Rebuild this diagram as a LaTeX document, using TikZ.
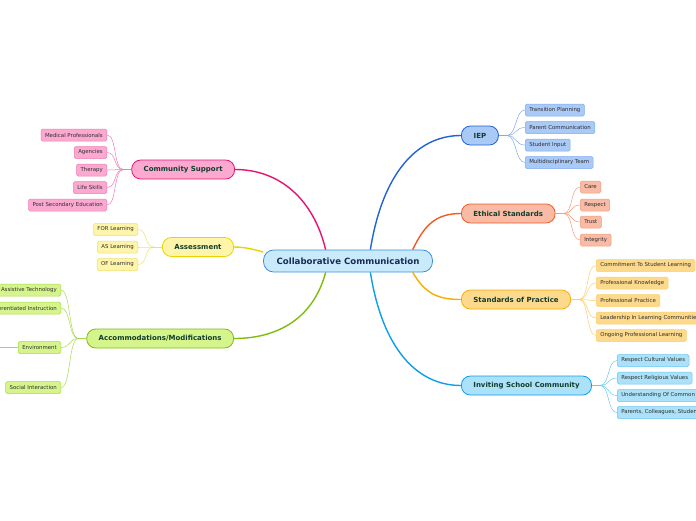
\documentclass[tikz,border=0pt]{standalone}
\usepackage{fontspec}
\setmainfont{DejaVu Sans}
\usetikzlibrary{positioning}

\definecolor{ccfill}{HTML}{C8EAFB}
\definecolor{ccedge}{HTML}{3A8ED6}
\definecolor{cctext}{HTML}{1B2A55}
\definecolor{topictext}{HTML}{123D2C}
\definecolor{leaftext}{HTML}{2E2E2E}
% branch colours: line, fill, soft
\definecolor{iepline}{HTML}{1F63D6}
\definecolor{iepfill}{HTML}{A9C9F6}
\definecolor{iepsoft}{HTML}{7FABEF}
\definecolor{esline}{HTML}{F15A24}
\definecolor{esfill}{HTML}{F9BBA5}
\definecolor{essoft}{HTML}{F59A7D}
\definecolor{spline}{HTML}{F8AC00}
\definecolor{spfill}{HTML}{FDD98C}
\definecolor{spsoft}{HTML}{F9CF70}
\definecolor{icline}{HTML}{0D9EE8}
\definecolor{icfill}{HTML}{ABE1F9}
\definecolor{icsoft}{HTML}{6CC6F0}
\definecolor{csline}{HTML}{E6136F}
\definecolor{csfill}{HTML}{FCA9D1}
\definecolor{cssoft}{HTML}{F17BB2}
\definecolor{asline}{HTML}{E9D400}
\definecolor{asfill}{HTML}{FEF4AA}
\definecolor{assoft}{HTML}{F0E070}
\definecolor{amline}{HTML}{7CBD10}
\definecolor{amfill}{HTML}{D5F58C}
\definecolor{amsoft}{HTML}{A8D850}

\begin{document}
\begin{tikzpicture}[x=1pt, y=-1pt,
  center/.style={rounded corners=10pt, draw=ccedge, fill=ccfill, line width=0.8pt,
    minimum height=22pt, inner xsep=13pt, inner ysep=0pt, text=cctext,
    font=\fontsize{8.6}{9}\selectfont\bfseries},
  topic/.style={rounded corners=9pt, draw=#1line, fill=#1fill, line width=0.8pt,
    minimum height=19pt, minimum width=37pt, inner xsep=12pt, inner ysep=0pt,
    text=topictext, font=\fontsize{7}{8}\selectfont\bfseries},
  leaf/.style={rounded corners=1.5pt, draw=#1soft, fill=#1fill, line width=0.5pt,
    minimum height=12pt, inner xsep=4pt, inner ysep=0pt,
    text=leaftext, font=\fontsize{5.4}{6}\selectfont},
  branch/.style={draw=#1line, line width=1.4pt},
  twig/.style={draw=#1soft, line width=0.5pt},
]
\useasboundingbox (0,0) rectangle (696,520);

% centre
\node[center] (cc) at (348,261) {Collaborative Communication};

% main topics
\node[topic=iep, anchor=west] (iep) at (461,135.5) {IEP};
\node[topic=es, anchor=west] (es) at (461,213.5) {Ethical Standards};
\node[topic=sp, anchor=west] (sp) at (461,299.5) {Standards of Practice};
\node[topic=ic, anchor=west] (ic) at (461,385.5) {Inviting School Community};
\node[topic=cs, anchor=east] (cs) at (235,169.5) {Community Support};
\node[topic=as, anchor=east] (as) at (234,247) {Assessment};
\node[topic=am, anchor=east] (am) at (234,338.5) {Accommodations/Modifications};

\draw[branch=iep] (cc.27) .. controls +(12,-75) and +(-45,0) .. (iep.west);
\draw[branch=es] (cc.10) .. controls +(12,-25) and +(-25,0) .. (es.west);
\draw[branch=sp] (cc.-10) .. controls +(12,20) and +(-25,0) .. (sp.west);
\draw[branch=ic] (cc.-27) .. controls +(12,75) and +(-45,0) .. (ic.west);
\draw[branch=cs] (cc.153) .. controls +(-12,-50) and +(45,0) .. (cs.east);
\draw[branch=as] (cc.174) .. controls +(-10,-3) and +(10,0) .. (as.east);
\draw[branch=am] (cc.-153) .. controls +(-12,45) and +(45,0) .. (am.east);

% hubs
\coordinate (iephub) at ([xshift=8pt]iep.east);
\coordinate (eshub) at ([xshift=8pt]es.east);
\coordinate (sphub) at ([xshift=8pt]sp.east);
\coordinate (ichub) at ([xshift=8pt]ic.east);
\coordinate (cshub) at ([xshift=-8pt]cs.west);
\coordinate (ashub) at ([xshift=-8pt]as.west);
\coordinate (amhub) at ([xshift=-8pt]am.west);
\draw[twig=iep, line width=0.8pt] (iep.east) -- (iephub);
\draw[twig=es, line width=0.8pt] (es.east) -- (eshub);
\draw[twig=sp, line width=0.8pt] (sp.east) -- (sphub);
\draw[twig=ic, line width=0.8pt] (ic.east) -- (ichub);
\draw[twig=cs, line width=0.8pt] (cs.west) -- (cshub);
\draw[twig=as, line width=0.8pt] (as.west) -- (ashub);
\draw[twig=am, line width=0.8pt] (am.west) -- (amhub);

% IEP
\node[leaf=iep, anchor=west] (iep1) at (525,110) {Transition Planning};
\node[leaf=iep, anchor=west] (iep2) at (525,127.5) {Parent Communication};
\node[leaf=iep, anchor=west] (iep3) at (525,145) {Student Input};
\node[leaf=iep, anchor=west] (iep4) at (525,162.5) {Multidisciplinary Team};
\draw[twig=iep] (iephub) .. controls +(10,0) and +(-10,0) .. (iep1.west);
\draw[twig=iep] (iephub) .. controls +(10,0) and +(-10,0) .. (iep2.west);
\draw[twig=iep] (iephub) .. controls +(10,0) and +(-10,0) .. (iep3.west);
\draw[twig=iep] (iephub) .. controls +(10,0) and +(-10,0) .. (iep4.west);

% Ethical Standards
\node[leaf=es, anchor=west] (es1) at (580,187) {Care};
\node[leaf=es, anchor=west] (es2) at (580,205) {Respect};
\node[leaf=es, anchor=west] (es3) at (580,222) {Trust};
\node[leaf=es, anchor=west] (es4) at (580,240) {Integrity};
\draw[twig=es] (eshub) .. controls +(10,0) and +(-10,0) .. (es1.west);
\draw[twig=es] (eshub) .. controls +(10,0) and +(-10,0) .. (es2.west);
\draw[twig=es] (eshub) .. controls +(10,0) and +(-10,0) .. (es3.west);
\draw[twig=es] (eshub) .. controls +(10,0) and +(-10,0) .. (es4.west);

% Standards of Practice
\node[leaf=sp, anchor=west] (sp1) at (596,265.5) {Commitment To Student Learning};
\node[leaf=sp, anchor=west] (sp2) at (596,283) {Professional Knowledge};
\node[leaf=sp, anchor=west] (sp3) at (596,300.5) {Professional Practice};
\node[leaf=sp, anchor=west] (sp4) at (596,318) {Leadership In Learning Communities};
\node[leaf=sp, anchor=west] (sp5) at (596,335.5) {Ongoing Professional Learning};
\draw[twig=sp] (sphub) .. controls +(10,0) and +(-10,0) .. (sp1.west);
\draw[twig=sp] (sphub) .. controls +(10,0) and +(-10,0) .. (sp2.west);
\draw[twig=sp] (sphub) .. controls +(10,0) and +(-10,0) .. (sp3.west);
\draw[twig=sp] (sphub) .. controls +(10,0) and +(-10,0) .. (sp4.west);
\draw[twig=sp] (sphub) .. controls +(10,0) and +(-10,0) .. (sp5.west);

% Inviting School Community
\node[leaf=ic, anchor=west] (ic1) at (617,360.5) {Respect Cultural Values};
\node[leaf=ic, anchor=west] (ic2) at (617,378) {Respect Religious Values};
\node[leaf=ic, anchor=west] (ic3) at (617,395.5) {Understanding Of Common};
\node[leaf=ic, anchor=west] (ic4) at (617,412.5) {Parents, Colleagues, Students};
\draw[twig=ic] (ichub) .. controls +(10,0) and +(-10,0) .. (ic1.west);
\draw[twig=ic] (ichub) .. controls +(10,0) and +(-10,0) .. (ic2.west);
\draw[twig=ic] (ichub) .. controls +(10,0) and +(-10,0) .. (ic3.west);
\draw[twig=ic] (ichub) .. controls +(10,0) and +(-10,0) .. (ic4.west);

% Community Support
\node[leaf=cs, anchor=east] (cs1) at (107,135) {Medical Professionals};
\node[leaf=cs, anchor=east] (cs2) at (107,152.5) {Agencies};
\node[leaf=cs, anchor=east] (cs3) at (107,170) {Therapy};
\node[leaf=cs, anchor=east] (cs4) at (107,187.5) {Life Skills};
\node[leaf=cs, anchor=east] (cs5) at (107,205) {Post Secondary Education};
\draw[twig=cs] (cshub) .. controls +(-10,0) and +(10,0) .. (cs1.east);
\draw[twig=cs] (cshub) .. controls +(-10,0) and +(10,0) .. (cs2.east);
\draw[twig=cs] (cshub) .. controls +(-10,0) and +(10,0) .. (cs3.east);
\draw[twig=cs] (cshub) .. controls +(-10,0) and +(10,0) .. (cs4.east);
\draw[twig=cs] (cshub) .. controls +(-10,0) and +(10,0) .. (cs5.east);

% Assessment
\node[leaf=as, anchor=east] (as1) at (138,229.5) {FOR Learning};
\node[leaf=as, anchor=east] (as2) at (138,247) {AS Learning};
\node[leaf=as, anchor=east] (as3) at (138,264.5) {OF Learning};
\draw[twig=as] (ashub) .. controls +(-10,0) and +(10,0) .. (as1.east);
\draw[twig=as] (ashub) .. controls +(-10,0) and +(10,0) .. (as2.east);
\draw[twig=as] (ashub) .. controls +(-10,0) and +(10,0) .. (as3.east);

% Accommodations/Modifications
\node[leaf=am, anchor=east] (am1) at (61,290) {Assistive Technology};
\node[leaf=am, anchor=east] (am2) at (61,308) {Differentiated Instruction};
\node[leaf=am, anchor=east] (am3) at (61,347.5) {Environment};
\node[leaf=am, anchor=east] (am4) at (61,387.5) {Social Interaction};
\coordinate (am3end) at (-5,347.5);
\draw[twig=am] (amhub) .. controls +(-10,0) and +(10,0) .. (am1.east);
\draw[twig=am] (amhub) .. controls +(-10,0) and +(10,0) .. (am2.east);
\draw[twig=am] (amhub) .. controls +(-10,0) and +(10,0) .. (am3.east);
\draw[twig=am] (amhub) .. controls +(-10,0) and +(10,0) .. (am4.east);
\draw[twig=am] (am3.west) -- (am3end);
\end{tikzpicture}
\end{document}
